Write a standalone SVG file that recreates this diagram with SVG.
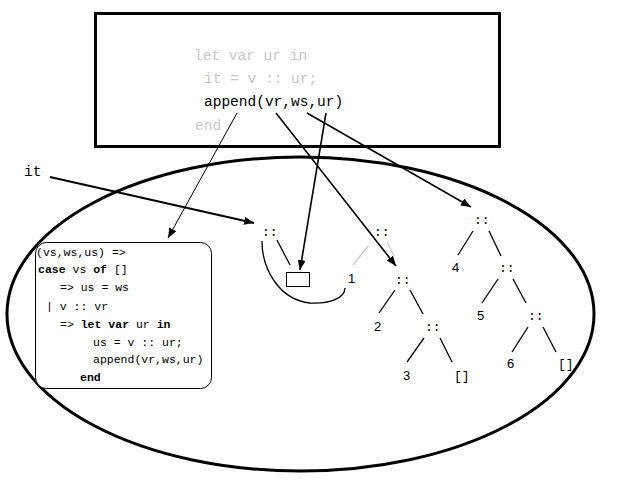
<svg xmlns="http://www.w3.org/2000/svg" width="640" height="480" viewBox="0 0 640 480">
<style>
.mono{font-family:"Liberation Mono","DejaVu Sans Mono",monospace;}
.code{font-family:"Liberation Mono","DejaVu Sans Mono",monospace;font-size:14.5px;}
.gray{fill:#c8c8c8;}
.small{font-family:"Liberation Mono","DejaVu Sans Mono",monospace;font-size:11.5px;fill:#000;}
.b{font-weight:bold;}
.lbl{font-family:"Liberation Sans","DejaVu Sans",sans-serif;font-size:13px;fill:#000;}
.sym{font-family:"Liberation Mono","DejaVu Sans Mono",monospace;font-size:13px;fill:#000;}
.edge{stroke:#000;stroke-width:1.3;fill:none;}
.gedge{stroke:#c8c8c8;stroke-width:1.3;fill:none;}
.arr{stroke:#000;stroke-width:1.6;fill:none;marker-end:url(#ah);}
</style>
<defs>
<marker id="ah" viewBox="0 0 10 8" refX="10" refY="4" markerWidth="10" markerHeight="8" markerUnits="userSpaceOnUse" orient="auto">
<path d="M0,0 L10,4 L0,8 Z" fill="#000"/>
</marker>
</defs>
<rect width="640" height="480" fill="#fff"/>
<g id="program">
<rect x="95.5" y="13.5" width="404" height="133" fill="none" stroke="#000" stroke-width="3"/>
<text class="code gray" x="194" y="60">let var ur in</text>
<text class="code gray" x="204" y="83">it = v :: ur;</text>
<text class="code" x="204" y="106">append(vr,ws,ur)</text>
<text class="code gray" x="195" y="130">end</text>
</g>
<g id="heap">
<ellipse cx="300.5" cy="314" rx="293.5" ry="157" fill="none" stroke="#000" stroke-width="3"/>
</g>
<g id="it-label">
<text class="code" x="24" y="176">it</text>
</g>
<g id="closure">
<rect x="35.5" y="242.5" width="176" height="146" rx="11" fill="#fff" stroke="#000" stroke-width="1"/>
<text class="small" x="36" y="256">(vs,ws,us) =&gt;</text>
<text class="small" x="38" y="273"><tspan class="b">case</tspan> vs <tspan class="b">of</tspan> []</text>
<text class="small" x="60" y="291">=&gt; us = ws</text>
<text class="small" x="46" y="310">| v :: vr</text>
<text class="small" x="60" y="328">=&gt; <tspan class="b">let</tspan> <tspan class="b">var</tspan> ur <tspan class="b">in</tspan></text>
<text class="small" x="93" y="346">us = v :: ur;</text>
<text class="small" x="93" y="363">append(vr,ws,ur)</text>
<text class="small b" x="80" y="381">end</text>
</g>
<g id="cell-it">
<text class="sym" x="262" y="236">::</text>
<rect x="286.5" y="272.5" width="23" height="14" fill="none" stroke="#000" stroke-width="1"/>
</g>
<g id="cell-gray">
<text class="sym gray" x="374" y="236">::</text>
<text class="lbl" x="348" y="283">1</text>
</g>
<g id="list-a">
<text class="sym" x="395" y="284">::</text>
<text class="lbl" x="374" y="331">2</text>
<text class="sym" x="425" y="331">::</text>
<text class="lbl" x="403" y="380">3</text>
<text class="sym" x="454" y="380">[]</text>
</g>
<g id="list-b">
<text class="sym" x="474" y="224">::</text>
<text class="lbl" x="452" y="272">4</text>
<text class="sym" x="499" y="272">::</text>
<text class="lbl" x="477" y="320">5</text>
<text class="sym" x="528" y="320">::</text>
<text class="lbl" x="507" y="368">6</text>
<text class="sym" x="558" y="368">[]</text>
</g>
<g id="connectors">
<line class="edge" x1="277" y1="240" x2="290" y2="265"/>
<path class="edge" d="M262,241 C262,270 280,300 310,303 C330,304 345,298 345,288" stroke-width="1"/>
<line class="gedge" x1="368" y1="246" x2="353" y2="265"/>
<line class="gedge" x1="387" y1="242" x2="394" y2="256"/>
<line class="edge" x1="395" y1="290" x2="379" y2="313"/>
<line class="edge" x1="410" y1="290" x2="423" y2="314"/>
<line class="edge" x1="424" y1="338" x2="407" y2="362"/>
<line class="edge" x1="440" y1="338" x2="452" y2="362"/>
<line class="edge" x1="473" y1="231" x2="458" y2="255"/>
<line class="edge" x1="489" y1="231" x2="501" y2="256"/>
<line class="edge" x1="498" y1="279" x2="482" y2="303"/>
<line class="edge" x1="513" y1="279" x2="526" y2="303"/>
<line class="edge" x1="528" y1="327" x2="512" y2="352"/>
<line class="edge" x1="543" y1="327" x2="556" y2="352"/>
<line class="arr" x1="237" y1="113" x2="168" y2="238" style="stroke-width:1"/>
<line class="arr" x1="276" y1="113" x2="396" y2="266"/>
<line class="arr" x1="326" y1="113" x2="300" y2="270"/>
<line class="arr" x1="307" y1="113" x2="471" y2="207"/>
<line class="arr" x1="50" y1="177" x2="254" y2="223" style="stroke-width:2"/>
</g>
</svg>
